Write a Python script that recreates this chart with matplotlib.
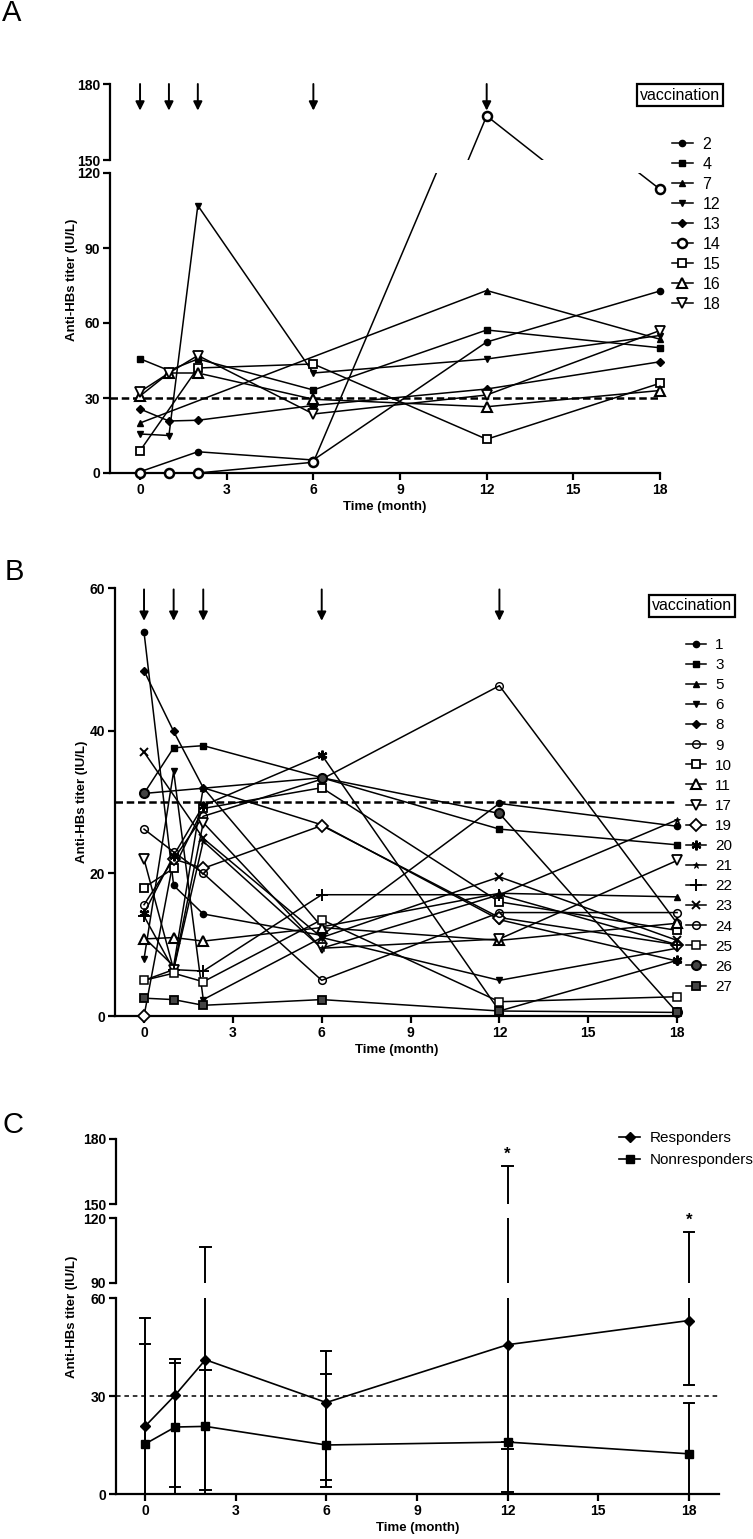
import matplotlib
matplotlib.use('Agg')
import matplotlib.pyplot as plt
from matplotlib.lines import Line2D
import numpy as np

plt.rcParams['font.family'] = ['Liberation Sans', 'DejaVu Sans']

nan = np.nan
months = [0, 1, 2, 6, 12, 18]
vacc_months = [0, 1, 2, 6, 12]

# ---- panel A : responders ----
a_ids = ['2', '4', '7', '12', '13', '14', '15', '16', '18']
a_vals = [
    [0.5, nan, 8.5, 5.2, 52.4, 72.8],
    [45.7, 41.0, 45.6, 33.2, 57.2, 50.1],
    [20.0, nan, nan, nan, 73.0, 53.5],
    [15.6, 15.0, 107.0, 40.0, 45.6, 55.0],
    [25.6, 20.8, 21.1, 27.0, 33.6, 44.5],
    [0.0, 0.0, 0.0, 4.3, 167.4, 113.5],
    [8.9, nan, 42.0, 43.6, 13.5, 35.9],
    [30.8, 40.0, 40.0, 29.5, 26.5, 33.0],
    [32.5, 40.0, 47.0, 23.6, 31.2, 57.0],
]

# ---- panel B : nonresponders ----
b_ids = ['1', '3', '5', '6', '8', '9', '10', '11', '17', '19', '20', '21', '22',
         '23', '24', '25', '26', '27']
b_vals = [
    [53.8, 18.3, 14.3, 11.3, 29.8, 26.6],
    [31.2, 37.6, 37.9, 33.4, 26.2, 24.0],
    [11.0, 7.0, 32.0, 12.5, 17.2, 16.7],
    [8.0, 34.3, 2.3, 11.0, 5.0, 9.5],
    [48.4, 39.9, 32.0, 26.8, 13.5, 7.7],
    [15.6, 22.0, 28.0, 33.2, 46.3, 13.0],
    [18.0, 20.7, 29.1, 32.0, 16.0, 12.0],
    [10.8, 11.0, 10.5, 12.4, 10.6, 13.0],
    [22.0, 6.5, 27.1, 9.5, 10.8, 21.8],
    [0.0, 22.0, 20.7, 26.7, 13.8, 10.0],
    [14.4, 22.5, 29.5, 36.6, 0.7, 7.8],
    [5.0, 6.5, 24.5, 9.5, 17.0, 27.5],
    [14.0, 6.5, 6.3, 17.0, 17.0, 10.0],
    [37.0, nan, 24.9, 11.0, 19.5, 10.6],
    [26.2, 23.0, 20.0, 5.0, 14.5, 14.5],
    [5.0, 6.0, 4.8, 13.5, 2.0, 2.7],
    [31.2, nan, nan, 33.4, 28.4, 0.5],
    [2.5, 2.3, 1.5, 2.3, 0.7, 0.5],
]

# ---- panel C : group means with bars ----
c_resp = [20.7, 30.3, 41.1, 28.0, 45.7, 53.1]
c_resp_hi = [53.8, 41.2, 106.6, 43.7, 167.7, 113.5]
c_resp_lo = [0.0, 2.0, 1.1, 4.4, 0.5, 33.4]
c_non = [15.3, 20.5, 20.7, 15.0, 15.9, 12.3]
c_non_hi = [45.9, 40.0, 38.0, 36.7, 15.9, 27.8]
c_non_lo = [0.0, 0.0, 0.0, 2.0, 13.9, 0.0]
star_months = [12, 18]

# marker styles (marker, size, face, edge width)
a_styles = [('o', 4.5, 'k', 1), ('s', 5, 'k', 1), ('^', 5, 'k', 1), ('v', 5, 'k', 1),
            ('D', 4.2, 'k', 1), ('o', 6.5, 'white', 1.8), ('s', 6, 'white', 1.3),
            ('^', 7.5, 'white', 1.5), ('v', 7.5, 'white', 1.3)]
b_styles = [('o', 4.5, 'k', 1), ('s', 5, 'k', 1), ('^', 4.5, 'k', 1), ('v', 5, 'k', 1),
            ('D', 4.2, 'k', 1), ('o', 5.5, 'none', 1), ('s', 6, 'white', 1.3),
            ('^', 7.5, 'white', 1.5), ('v', 7, 'white', 1.3), ('D', 6, 'white', 1.3),
            ((6, 2, 0), 7, 'k', 1.6), ('*', 5, 'k', 0.6), ('+', 8, 'k', 1.4),
            ('x', 5.5, 'k', 1.4), ('o', 5.5, 'none', 1.1), ('s', 5.5, 'white', 1.1),
            ('o', 6.5, '#444444', 1.5), ('s', 6, '#444444', 1.3)]

W, H = 753, 1539
fig = plt.figure(figsize=(W / 100, H / 100), dpi=100)


def rect(x0, y0, x1, y1):
    return [x0 / W, 1 - y1 / H, (x1 - x0) / W, (y1 - y0) / H]


def style_ax(ax, yticks, bottom=True):
    for s in ['top', 'right']:
        ax.spines[s].set_visible(False)
    ax.spines['left'].set_linewidth(1.6)
    ax.spines['bottom'].set_linewidth(1.6)
    ax.set_yticks(yticks)
    ax.tick_params(direction='out', width=1.6, length=5, labelsize=10, pad=2)
    for lab in ax.get_yticklabels():
        lab.set_fontweight('bold')
    if bottom:
        ax.set_xticks([0, 3, 6, 9, 12, 15, 18])
        for lab in ax.get_xticklabels():
            lab.set_fontweight('bold')
    else:
        ax.spines['bottom'].set_visible(False)
        ax.set_xticks([])


def draw_series(ax, vals, st, ylo, yhi):
    x = np.array(months, dtype=float)
    y = np.array(vals, dtype=float)
    ok = ~np.isnan(y)
    ax.plot(x[ok], y[ok], color='k', lw=1.1, zorder=2)
    inr = ok & (y >= ylo) & (y <= yhi)
    m, ms, fc, mew = st
    ax.plot(x[inr], y[inr], ls='none', marker=m, ms=ms, mfc=fc, mec='k', mew=mew,
            color='k', clip_on=False, zorder=3)


def handle(st, lw=1.1):
    m, ms, fc, mew = st
    return Line2D([], [], color='k', lw=lw, marker=m, ms=ms, mfc=fc, mec='k', mew=mew)


def arrows(ax, top, tip):
    for xm in vacc_months:
        ax.annotate('', xy=(xm, tip), xytext=(xm, top),
                    arrowprops=dict(arrowstyle='-|>', color='k', lw=1.4, mutation_scale=13,
                                    shrinkA=0, shrinkB=0),
                    annotation_clip=False)


def vacc_box(x, y):
    fig.text(x / W, 1 - y / H, 'vaccination', fontsize=11.5, ha='left', va='center',
             bbox=dict(boxstyle='square,pad=0.2', fc='white', ec='k', lw=1.6))


# ================= A =================
axA_top = fig.add_axes(rect(110, 84, 660, 160))
axA = fig.add_axes(rect(110, 173, 660, 473))
for ax, lo, hi in [(axA_top, 150, 180), (axA, 0, 120)]:
    ax.set_xlim(-1.04, 18)
    ax.set_ylim(lo, hi)
    for vals, st in zip(a_vals, a_styles):
        draw_series(ax, vals, st, lo, hi)
style_ax(axA_top, [150, 180], bottom=False)
style_ax(axA, [0, 30, 60, 90, 120])
axA.plot([-1.04, 18], [30, 30], color='k', lw=1.8, ls=(0, (3, 1.5)), zorder=1)
axA.set_xlabel('Time (month)', fontsize=9.5, fontweight='bold', labelpad=3)
arrows(axA_top, 180, 169.5)
vacc_box(640, 95)
axA.legend([handle(s) for s in a_styles], a_ids, loc='upper left',
           bbox_to_anchor=(672 / W, 1 - 137 / H), bbox_transform=fig.transFigure,
           frameon=False, fontsize=11.5, handlelength=1.3, handletextpad=0.6,
           labelspacing=0.31, borderpad=0, borderaxespad=0)
fig.text(72 / W, 1 - 280 / H, 'Anti-HBs titer (IU/L)', rotation=90, fontsize=9.5,
         fontweight='bold', ha='center', va='center')
fig.text(2 / W, 1 - 13 / H, 'A', fontsize=21, ha='left', va='center')

# ================= B =================
axB = fig.add_axes(rect(115, 588, 678, 1016))
axB.set_xlim(-0.98, 18.03)
axB.set_ylim(0, 60)
for vals, st in zip(b_vals, b_styles):
    draw_series(axB, vals, st, 0, 60)
style_ax(axB, [0, 20, 40, 60])
axB.plot([-0.98, 18], [30, 30], color='k', lw=1.8, ls=(0, (3, 1.5)), zorder=1)
axB.set_xlabel('Time (month)', fontsize=9.5, fontweight='bold', labelpad=3)
arrows(axB, 59.8, 55.4)
vacc_box(652, 606)
axB.legend([handle(s) for s in b_styles], b_ids, loc='upper left',
           bbox_to_anchor=(686 / W, 1 - 638 / H), bbox_transform=fig.transFigure,
           frameon=False, fontsize=11, handlelength=1.3, handletextpad=0.6,
           labelspacing=0.40, borderpad=0, borderaxespad=0)
fig.text(82 / W, 1 - 802 / H, 'Anti-HBs titer (IU/L)', rotation=90, fontsize=9.5,
         fontweight='bold', ha='center', va='center')
fig.text(5 / W, 1 - 572 / H, 'B', fontsize=21, ha='left', va='center')

# ================= C =================
axC_top = fig.add_axes(rect(116, 1139, 719, 1204))
axC_mid = fig.add_axes(rect(116, 1218, 719, 1283))
axC = fig.add_axes(rect(116, 1298, 719, 1494))
c_style = [('D', 5.5, 'k', 1), ('s', 6, 'k', 1)]
for ax, lo, hi in [(axC_top, 150, 180), (axC_mid, 90, 120), (axC, 0, 60)]:
    ax.set_xlim(-0.96, 19.0)
    ax.set_ylim(lo, hi)
    for mean, elo, ehi, st in [(c_resp, c_resp_lo, c_resp_hi, c_style[0]),
                               (c_non, c_non_lo, c_non_hi, c_style[1])]:
        ax.vlines(months, elo, ehi, colors='k', lw=1.4, zorder=2)
        for xm, l, h in zip(months, elo, ehi):
            for v in (l, h):
                if lo <= v <= hi:
                    ax.plot([xm - 0.17, xm + 0.17], [v, v], color='k', lw=1.4,
                            clip_on=False, zorder=2)
        m, ms, fc, mew = st
        ax.plot(months, mean, color='k', lw=1.2, marker=m, ms=ms, mfc=fc, mec='k',
                zorder=3)
style_ax(axC_top, [150, 180], bottom=False)
style_ax(axC_mid, [90, 120], bottom=False)
style_ax(axC, [0, 30, 60])
axC.plot([-0.96, 19.0], [30, 30], color='k', lw=1.1, ls=(0, (3, 2.5)), zorder=1)
axC.set_xlabel('Time (month)', fontsize=9.5, fontweight='bold', labelpad=3)
for xm in star_months:
    top = c_resp_hi[months.index(xm)]
    tax = axC_top if top >= 150 else axC_mid
    tax.text(xm, top + 2, '*', ha='center', va='bottom', fontsize=12, fontweight='bold')
axC.legend([handle(s, 1.2) for s in c_style], ['Responders', 'Nonresponders'],
           loc='upper left', bbox_to_anchor=(619 / W, 1 - 1131 / H),
           bbox_transform=fig.transFigure, frameon=False, fontsize=11,
           handlelength=1.4, handletextpad=0.6, labelspacing=0.55, borderpad=0,
           borderaxespad=0)
fig.text(72 / W, 1 - 1317 / H, 'Anti-HBs titer (IU/L)', rotation=90, fontsize=9.5,
         fontweight='bold', ha='center', va='center')
fig.text(2 / W, 1 - 1125 / H, 'C', fontsize=21, ha='left', va='center')

fig.savefig('out.png', dpi=100, facecolor='white')
